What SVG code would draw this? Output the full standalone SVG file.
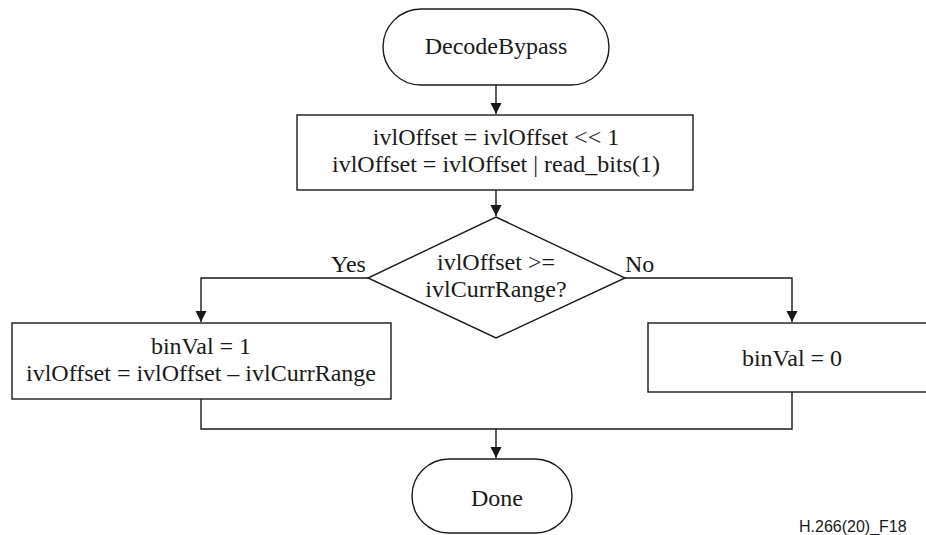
<svg xmlns="http://www.w3.org/2000/svg" width="926" height="535" viewBox="0 0 926 535">
<defs>
<marker id="arr" markerWidth="12" markerHeight="12" refX="11" refY="5.5" orient="auto" markerUnits="userSpaceOnUse">
<path d="M0,0 L11,5.5 L0,11 Z" fill="#1a1a1a"/>
</marker>
<style>
.s{fill:#fff;stroke:#1a1a1a;stroke-width:1.4}
.c{fill:none;stroke:#1a1a1a;stroke-width:1.4}
.t{font-family:"Liberation Serif","Times New Roman",serif;font-size:24px;fill:#1a1a1a;text-anchor:middle}
.l{font-family:"Liberation Serif","Times New Roman",serif;font-size:24px;fill:#1a1a1a}
.f{font-family:"Liberation Sans",Arial,sans-serif;font-size:16px;fill:#1a1a1a}
</style>
</defs>
<rect width="926" height="535" fill="#fff"/>
<g id="connectors">
<path class="c" d="M496,85 V114" marker-end="url(#arr)"/>
<path class="c" d="M496,190 V216" marker-end="url(#arr)"/>
<path class="c" d="M368,278 H201 V322" marker-end="url(#arr)"/>
<path class="c" d="M625,278 H792 V322" marker-end="url(#arr)"/>
<path class="c" d="M201,399 V429 H792 V392"/>
<path class="c" d="M496,429 V458" marker-end="url(#arr)"/>
</g>
<g id="start">
<rect class="s" x="383" y="9" width="226" height="76" rx="38" ry="38"/>
<text class="t" x="496" y="54">DecodeBypass</text>
</g>
<g id="shift">
<rect class="s" x="297" y="115" width="396" height="75"/>
<text class="t" x="496" y="145">ivlOffset = ivlOffset &lt;&lt; 1</text>
<text class="t" x="496" y="172">ivlOffset = ivlOffset | read_bits(1)</text>
</g>
<g id="decision">
<polygon class="s" points="496,217 625,278 496,338 368,278"/>
<text class="t" x="496" y="270">ivlOffset &gt;=</text>
<text class="t" x="496" y="297">ivlCurrRange?</text>
<text class="l" x="331" y="272">Yes</text>
<text class="l" x="625" y="272">No</text>
</g>
<g id="yesbox">
<rect class="s" x="12" y="323" width="379" height="76"/>
<text class="t" x="201" y="354">binVal = 1</text>
<text class="t" x="201" y="381">ivlOffset = ivlOffset – ivlCurrRange</text>
</g>
<g id="nobox">
<rect class="s" x="648" y="323" width="290" height="69"/>
<text class="t" x="792" y="366">binVal = 0</text>
</g>
<g id="done">
<rect class="s" x="412" y="459" width="160" height="74" rx="37" ry="37"/>
<text class="t" x="497" y="506">Done</text>
</g>
<text class="f" x="799" y="532">H.266(20)_F18</text>
</svg>
